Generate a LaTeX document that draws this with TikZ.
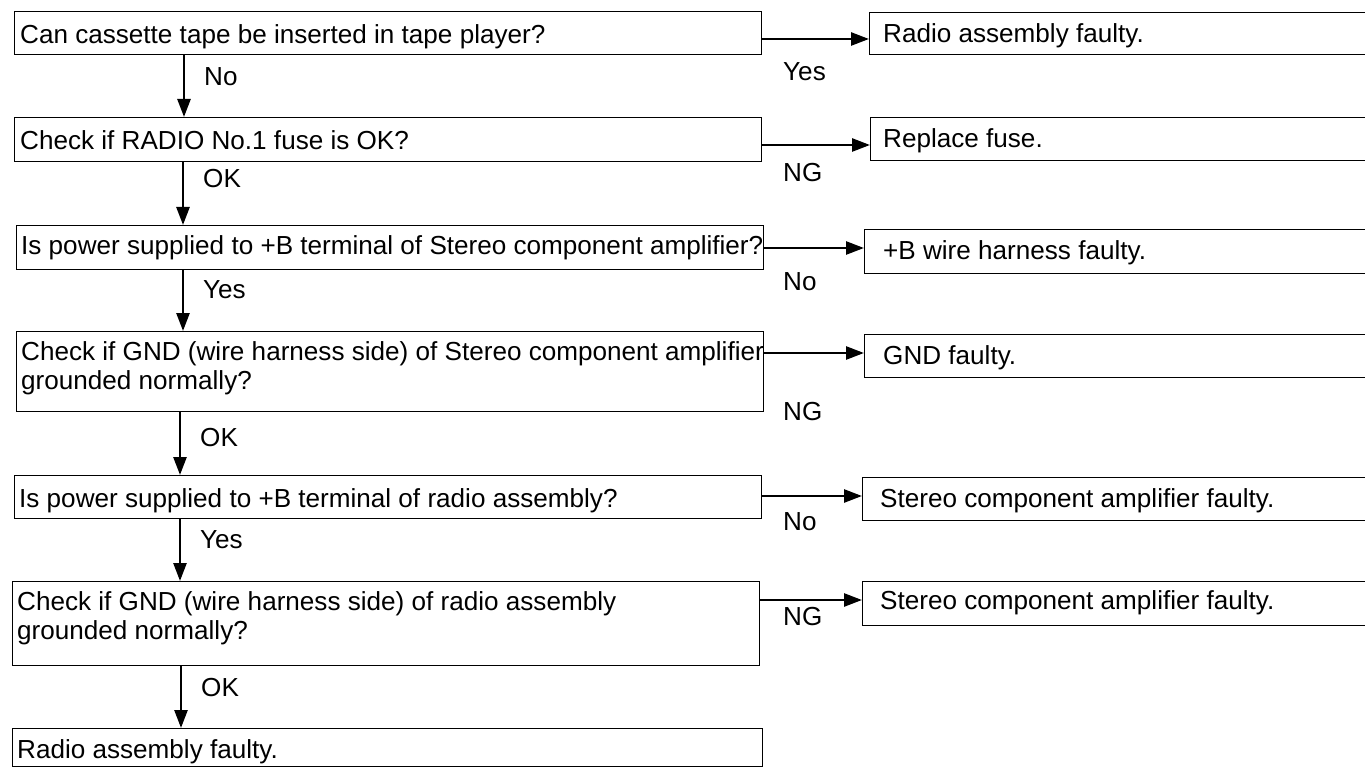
\documentclass[tikz,border=0pt]{standalone}
\usepackage{fontspec}
\setmainfont{Liberation Sans}
\usetikzlibrary{arrows.meta}
\begin{document}
\begin{tikzpicture}[x=1pt,y=-1pt,
  box/.style={draw=black,line width=1.3pt,rectangle,inner sep=0pt,anchor=north west},
  txt/.style={inner sep=0pt,anchor=base west,font=\fontsize{26.1pt}{30pt}\selectfont},
  lbl/.style={inner sep=0pt,anchor=west,font=\fontsize{26.1pt}{30pt}\selectfont},
  arr/.style={line width=2.6pt,-{Triangle[length=18pt,width=13pt]}}]
\useasboundingbox (0,0) rectangle (1365,767);
\clip (0,0) rectangle (1365,767);
% left boxes
\node[box,minimum width=747pt,minimum height=43pt] (L1) at (14,11) {};
\node[box,minimum width=747pt,minimum height=44pt] (L2) at (14,117) {};
\node[box,minimum width=747pt,minimum height=44pt] (L3) at (16,225) {};
\node[box,minimum width=747pt,minimum height=80pt] (L4) at (16,331) {};
\node[box,minimum width=747pt,minimum height=43pt] (L5) at (14,475) {};
\node[box,minimum width=747pt,minimum height=84pt] (L6) at (12,581) {};
\node[box,minimum width=750pt,minimum height=38pt] (L7) at (12,728) {};
\node[txt] (t1) at (20,44) {Can cassette tape be inserted in tape player?};
\node[txt] (t2) at (20,150) {Check if RADIO No.1 fuse is OK?};
\node[txt] (t3) at (21,255) {Is power supplied to +B terminal of Stereo component amplifier?};
\node[txt] (t4a) at (21,360) {Check if GND (wire harness side) of Stereo component amplifier};
\node[txt] (t4b) at (21,389) {grounded normally?};
\node[txt] (t5) at (19,507) {Is power supplied to +B terminal of radio assembly?};
\node[txt] (t6a) at (17,610) {Check if GND (wire harness side) of radio assembly};
\node[txt] (t6b) at (17,639) {grounded normally?};
\node[txt] (t7) at (17,758) {Radio assembly faulty.};
% right boxes
\node[box,minimum width=520pt,minimum height=42pt] (R1) at (869,12) {};
\node[box,minimum width=520pt,minimum height=43pt] (R2) at (870,117) {};
\node[box,minimum width=520pt,minimum height=44pt] (R3) at (864,229) {};
\node[box,minimum width=520pt,minimum height=43pt] (R4) at (864,334) {};
\node[box,minimum width=520pt,minimum height=43pt] (R5) at (862,477) {};
\node[box,minimum width=520pt,minimum height=44pt] (R6) at (862,581) {};
\node[txt] (s1) at (883,43) {Radio assembly faulty.};
\node[txt] (s2) at (883,148) {Replace fuse.};
\node[txt] (s3) at (883,260) {+B wire harness faulty.};
\node[txt] (s4) at (883,364) {GND faulty.};
\node[txt] (s5) at (880,507) {Stereo component amplifier faulty.};
\node[txt] (s6) at (880,609) {Stereo component amplifier faulty.};
% horizontal arrows
\draw[arr] ([yshift=-28pt]L1.north east) -- ([yshift=-27pt]R1.north west);
\draw[arr] ([yshift=-28pt]L2.north east) -- ([yshift=-28pt]R2.north west);
\draw[arr] ([yshift=-23pt]L3.north east) -- ([yshift=-19pt]R3.north west);
\draw[arr] ([yshift=-22pt]L4.north east) -- ([yshift=-19pt]R4.north west);
\draw[arr] ([yshift=-21pt]L5.north east) -- ([yshift=-19pt]R5.north west);
\draw[arr] ([yshift=-19pt]L6.north east) -- ([yshift=-19pt]R6.north west);
% vertical arrows
\draw[arr] ([xshift=170pt]L1.south west) -- ([xshift=170pt]L2.north west);
\draw[arr] ([xshift=169pt]L2.south west) -- ([xshift=167pt]L3.north west);
\draw[arr] ([xshift=167pt]L3.south west) -- ([xshift=167pt]L4.north west);
\draw[arr] ([xshift=164pt]L4.south west) -- ([xshift=166pt]L5.north west);
\draw[arr] ([xshift=166pt]L5.south west) -- ([xshift=168pt]L6.north west);
\draw[arr] ([xshift=169pt]L6.south west) -- ([xshift=169pt]L7.north west);
% labels
\node[lbl] (y1) at (783,72) {Yes};
\node[lbl] (y2) at (783,173) {NG};
\node[lbl] (y3) at (783,282) {No};
\node[lbl] (y4) at (783,412) {NG};
\node[lbl] (y5) at (783,522) {No};
\node[lbl] (y6) at (783,617) {NG};
\node[lbl] (d1) at (204,77) {No};
\node[lbl] (d2) at (203,179) {OK};
\node[lbl] (d3) at (203,290) {Yes};
\node[lbl] (d4) at (200,438) {OK};
\node[lbl] (d5) at (200,540) {Yes};
\node[lbl] (d6) at (201,688) {OK};
\end{tikzpicture}
\end{document}
